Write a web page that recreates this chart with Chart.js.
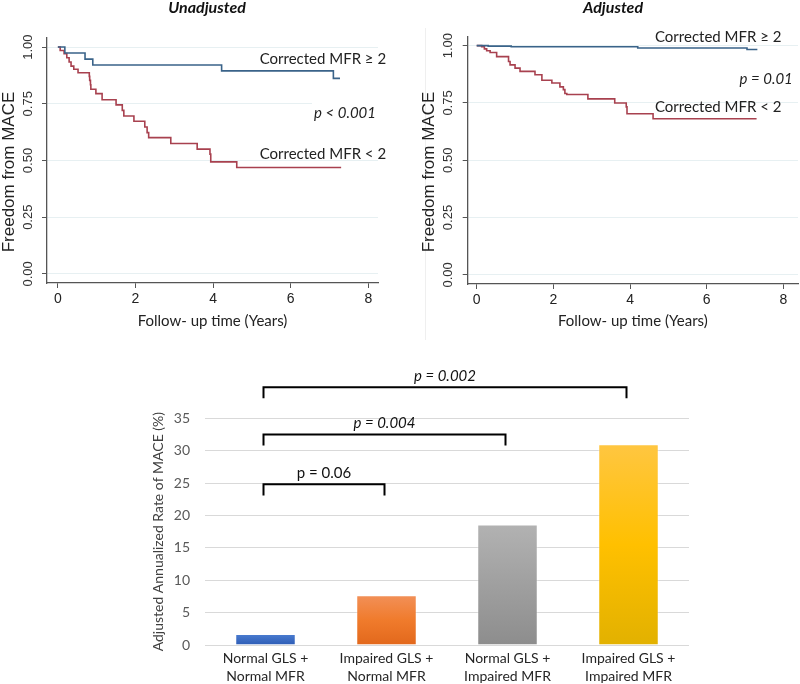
<!DOCTYPE html>
<html>
<head>
<meta charset="utf-8">
<script src="https://cdn.jsdelivr.net/npm/chart.js@4.4.1/dist/chart.umd.min.js"></script>
<style>
  body { margin: 0; background: #fff; }
  #wrap { position: relative; width: 800px; height: 684px; overflow: hidden; }
  canvas { position: absolute; }
  #sep { position: absolute; left: 425px; top: 28px; width: 0; height: 312px; border-left: 1px solid #efefef; }
</style>
</head>
<body>
<div id="wrap">
  <div id="sep"></div>
  <canvas id="kmLeft" width="400" height="340" style="left:0;top:0"></canvas>
  <canvas id="kmRight" width="400" height="340" style="left:400px;top:0"></canvas>
  <canvas id="bars" width="800" height="334" style="left:0;top:350px"></canvas>
</div>
<script>
// ---- Kaplan-Meier data: time (years) and survival after each drop ----
const kmTicksX = [0, 2, 4, 6, 8];
const kmTicksY = [0, 0.25, 0.5, 0.75, 1];

const unadjHighTime = [0, 0.18, 0.7, 0.9, 4.22, 7.1, 7.27];
const unadjHighSurv = [1, 0.974, 0.947, 0.921, 0.895, 0.862, 0.862];
const unadjLowTime = [0, 0.06, 0.16, 0.23, 0.29, 0.34, 0.41, 0.52, 0.81, 0.82, 0.84, 0.85, 0.98, 1.14, 1.5,
  1.66, 1.7, 1.96, 2.24, 2.3, 2.34, 2.91, 3.59, 3.92, 3.94, 4.61, 7.3];
const unadjLowSurv = [1, 0.985, 0.971, 0.953, 0.934, 0.916, 0.902, 0.887, 0.871, 0.853, 0.834, 0.814, 0.795, 0.768, 0.745,
  0.721, 0.696, 0.673, 0.648, 0.623, 0.601, 0.575, 0.55, 0.528, 0.494, 0.469, 0.469];

const adjHighTime = [0, 0.3, 0.9, 4.2, 7.05, 7.32];
const adjHighSurv = [1, 0.998, 0.995, 0.99, 0.983, 0.983];
const adjLowTime = [0, 0.13, 0.2, 0.26, 0.35, 0.52, 0.83, 0.87, 1.0, 1.13, 1.52, 1.7, 1.96, 2.17, 2.26, 2.3, 2.35,
  2.9, 3.6, 3.9, 3.92, 4.6, 7.3];
const adjLowSurv = [1, 0.996, 0.986, 0.978, 0.97, 0.952, 0.931, 0.916, 0.902, 0.888, 0.873, 0.849, 0.837, 0.82, 0.808, 0.791, 0.787,
  0.768, 0.75, 0.733, 0.703, 0.681, 0.681];

// ---- bar chart data ----
const barCategories = [
  ['Normal GLS +', 'Normal MFR'],
  ['Impaired GLS +', 'Normal MFR'],
  ['Normal GLS +', 'Impaired MFR'],
  ['Impaired GLS +', 'Impaired MFR']
];
const barValues = [1.7, 7.7, 18.6, 31.0];
const barTicks = [0, 5, 10, 15, 20, 25, 30, 35];
const comparisonFrom = [0, 0, 0];
const comparisonTo = [1, 2, 3];
const comparisonLabels = ['p = 0.06', 'p = 0.004', 'p = 0.002'];

const toXY = (t, s) => t.map((v, i) => ({ x: v, y: s[i] }));

// draws the Stata-like labels and the notes on a KM panel
const kmText = {
  id: 'kmText',
  afterDraw(chart, args, opts) {
    const { ctx, chartArea, scales: { x, y } } = chart;
    ctx.save();
    ctx.textAlign = 'center';
    ctx.textBaseline = 'middle';
    ctx.fillStyle = '#333';
    ctx.font = '13px "Liberation Sans"';
    y.ticks.forEach(t => {
      ctx.save();
      ctx.translate(chartArea.left - 19, y.getPixelForValue(t.value));
      ctx.rotate(-Math.PI / 2);
      ctx.fillText(t.value.toFixed(2), 0, 0);
      ctx.restore();
    });
    ctx.save();
    ctx.translate(chartArea.left - 38, opts.titleY);
    ctx.rotate(-Math.PI / 2);
    ctx.font = '17px "Liberation Sans"';
    ctx.fillStyle = '#222';
    ctx.fillText('Freedom from MACE', 0, 0);
    ctx.restore();

    ctx.font = 'italic bold 16px Lato';
    ctx.fillStyle = '#111';
    ctx.fillText(opts.heading, opts.headingX, 8);

    opts.notes.forEach(n => {
      ctx.font = (n.italic ? 'italic ' : '') + '15px Lato';
      const px = x.getPixelForValue(n.t), py = y.getPixelForValue(n.s);
      ctx.textAlign = n.align;
      if (n.bg) {
        const w = ctx.measureText(n.text).width;
        const lx = n.align === 'center' ? px - w / 2 : px;
        ctx.fillStyle = '#fff';
        ctx.fillRect(lx - 2, py - 12, chartArea.right - lx + 2, 24);
      }
      ctx.fillStyle = '#222';
      ctx.fillText(n.text, px, py);
    });
    ctx.restore();
  }
};

function kmChart(id, cfg) {
  return new Chart(document.getElementById(id), {
    type: 'scatter',
    data: {
      datasets: [
        { data: toXY(cfg.highT, cfg.highS), borderColor: '#3a6389' },
        { data: toXY(cfg.lowT, cfg.lowS), borderColor: '#a8414f' }
      ].map(d => Object.assign(d, { showLine: true, stepped: 'before', pointRadius: 0, borderWidth: 1.6, fill: false }))
    },
    options: {
      responsive: false,
      animation: false,
      layout: { padding: { left: cfg.padLeft, top: cfg.padTop, right: cfg.padRight, bottom: 0 } },
      plugins: {
        legend: { display: false },
        tooltip: { enabled: false },
        kmText: { heading: cfg.heading, headingX: cfg.headingX, titleY: cfg.titleY, notes: cfg.notes }
      },
      scales: {
        x: {
          type: 'linear',
          min: cfg.xMin,
          max: cfg.xMax,
          afterBuildTicks: s => { s.ticks = kmTicksX.map(v => ({ value: v })); },
          afterFit: s => { s.height = cfg.xHeight; },
          grid: { drawOnChartArea: false, tickColor: '#555', tickLength: 5 },
          border: { color: '#555', width: 1.3 },
          ticks: { color: '#222', font: { family: 'Liberation Sans', size: 14 }, padding: 3, maxRotation: 0 },
          title: { display: true, text: 'Follow- up time (Years)', color: '#222',
            font: { family: 'Lato', size: 15 }, padding: { top: 4, bottom: 10 } }
        },
        y: {
          min: -0.04,
          max: 1.04,
          afterBuildTicks: s => { s.ticks = kmTicksY.map(v => ({ value: v })); },
          afterFit: s => { s.width = cfg.yWidth; },
          grid: { color: '#e7f0f2', tickColor: '#555', tickLength: 5 },
          border: { color: '#555', width: 1.3 },
          ticks: { display: false }
        }
      }
    },
    plugins: [kmText]
  });
}

kmChart('kmLeft', {
  highT: unadjHighTime, highS: unadjHighSurv, lowT: unadjLowTime, lowS: unadjLowSurv,
  padLeft: 0, yWidth: 47, padTop: 38, padRight: 22, xHeight: 57,
  xMin: -0.28, xMax: 8.25,
  heading: 'Unadjusted', headingX: 207, titleY: 172,
  notes: [
    { text: 'Corrected MFR \u2265 2', t: 5.2, s: 0.947, align: 'left' },
    { text: 'p < 0.001', t: 7.4, s: 0.71, align: 'center', italic: true, bg: true },
    { text: 'Corrected MFR < 2', t: 5.2, s: 0.53, align: 'left' }
  ]
});

kmChart('kmRight', {
  highT: adjHighTime, highS: adjHighSurv, lowT: adjLowTime, lowS: adjLowSurv,
  padLeft: 20, yWidth: 47.7, padTop: 36.5, padRight: 2, xHeight: 56,
  xMin: -0.235, xMax: 8.38,
  heading: 'Adjusted', headingX: 213, titleY: 172,
  notes: [
    { text: 'Corrected MFR \u2265 2', t: 4.65, s: 1.038, align: 'left' },
    { text: 'p = 0.01', t: 7.55, s: 0.856, align: 'center', italic: true },
    { text: 'Corrected MFR < 2', t: 4.65, s: 0.73, align: 'left' }
  ]
});

// ---- bar chart ----
const barShades = [
  ['#4b7dd1', '#2d5cb5'],
  ['#f29058', '#f07b2c', '#e2681c'],
  ['#b2b2b2', '#8d8d8d'],
  ['#ffc641', '#ffc000', '#e2b100']
];

const brackets = {
  id: 'brackets',
  afterDraw(chart, args, opts) {
    const { ctx, scales: { x, y } } = chart;
    ctx.save();
    ctx.strokeStyle = '#000';
    ctx.lineWidth = 2;
    ctx.fillStyle = '#111';
    ctx.textAlign = 'center';
    comparisonLabels.forEach((label, i) => {
      const x1 = x.getPixelForValue(comparisonFrom[i]) - 2;
      const x2 = x.getPixelForValue(comparisonTo[i]) - 2;
      const top = y.getPixelForValue(opts.levels[i]);
      const leg = y.getPixelForValue(opts.levels[i] - 1.7);
      ctx.beginPath();
      ctx.moveTo(x1, leg);
      ctx.lineTo(x1, top);
      ctx.lineTo(x2, top);
      ctx.lineTo(x2, leg);
      ctx.stroke();
      ctx.font = (opts.italic[i] ? 'italic ' : '') + '15px Lato';
      ctx.fillText(label, (x1 + x2) / 2, top - 6);
    });
    ctx.restore();
  }
};

new Chart(document.getElementById('bars'), {
  type: 'bar',
  data: {
    labels: barCategories,
    datasets: [{
      data: barValues,
      barPercentage: 0.5,
      categoryPercentage: 1,
      backgroundColor: c => {
        const chart = c.chart;
        const shades = barShades[c.dataIndex];
        if (!chart.chartArea) return shades[0];
        const y = chart.scales.y;
        const g = chart.ctx.createLinearGradient(0, y.getPixelForValue(c.raw), 0, y.getPixelForValue(0));
        shades.forEach((col, k) => g.addColorStop(k / (shades.length - 1), col));
        return g;
      },
      borderColor: 'rgba(255,255,255,0.35)',
      borderWidth: 1
    }]
  },
  options: {
    responsive: false,
    animation: false,
    layout: { padding: { left: 150, top: 68.3, right: 111, bottom: 0 } },
    plugins: {
      legend: { display: false },
      tooltip: { enabled: false },
      brackets: { levels: [24.8, 32.5, 39.8], italic: [false, true, true] }
    },
    scales: {
      x: {
        afterFit: s => { s.height = 39; },
        grid: { display: false, drawTicks: false },
        border: { display: false },
        ticks: { color: '#262626', font: { family: 'Lato', size: 14, lineHeight: 1.3 }, padding: 4, maxRotation: 0 }
      },
      y: {
        min: 0,
        max: 35,
        afterBuildTicks: s => { s.ticks = barTicks.map(v => ({ value: v })); },
        afterFit: s => { s.width = 55; },
        grid: { color: '#d9d9d9', drawTicks: false },
        border: { display: false },
        ticks: { color: '#595959', font: { family: 'Lato', size: 14 }, padding: 15 },
        title: { display: true, text: 'Adjusted Annualized Rate of MACE (%)', color: '#404040',
          font: { family: 'Lato', size: 14 }, padding: 0 }
      }
    }
  },
  plugins: [brackets]
});
</script>
</body>
</html>
